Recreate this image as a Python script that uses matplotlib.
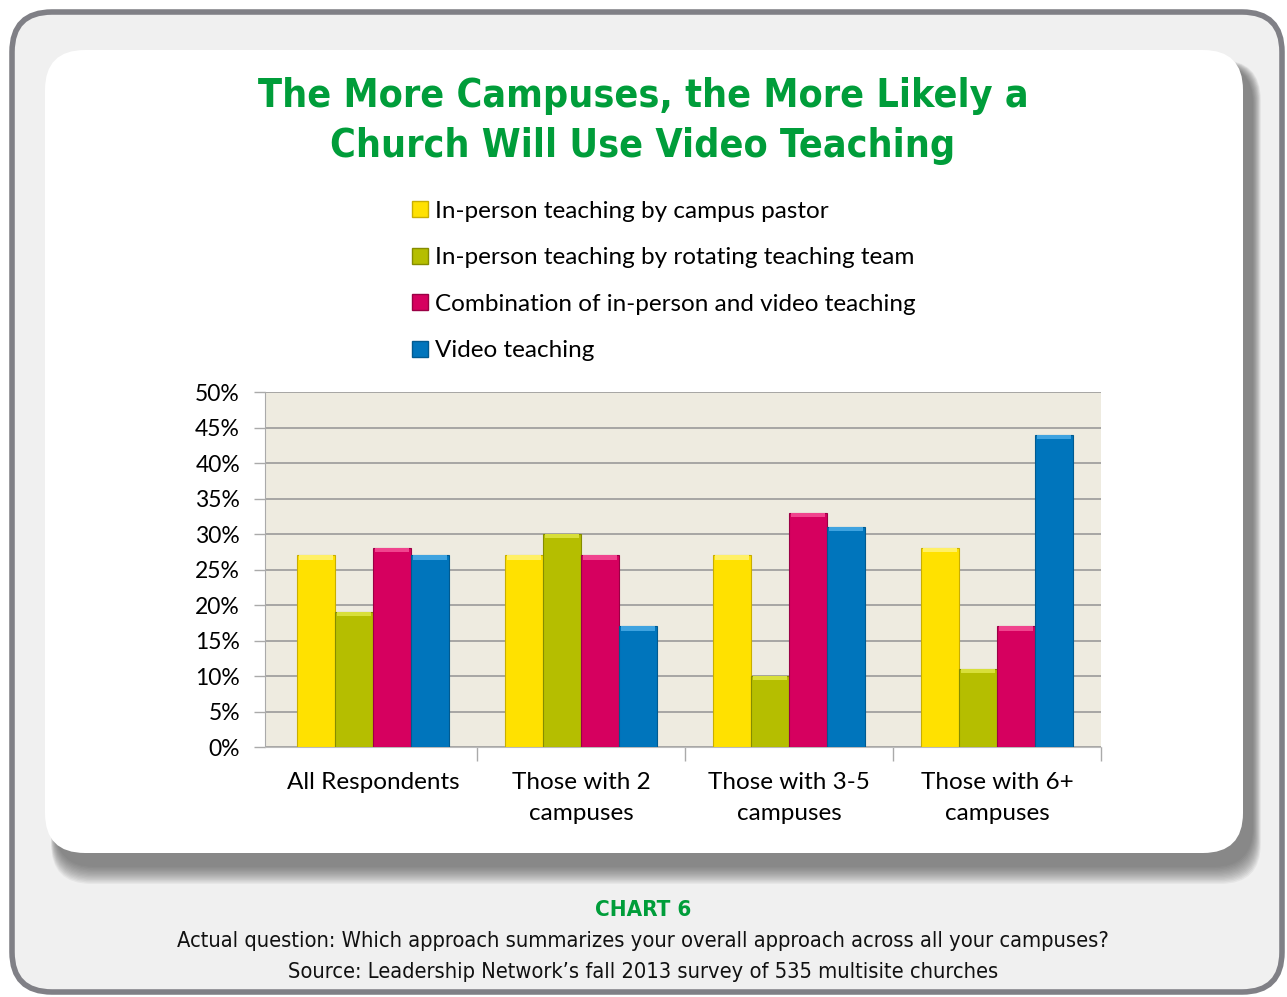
import numpy as np
import matplotlib
matplotlib.use("Agg")
import matplotlib.pyplot as plt
from matplotlib.patches import FancyBboxPatch, Patch

categories = ["All Respondents", "Those with 2\ncampuses", "Those with 3-5\ncampuses", "Those with 6+\ncampuses"]
series_names = ["In-person teaching by campus pastor",
                "In-person teaching by rotating teaching team",
                "Combination of in-person and video teaching",
                "Video teaching"]
campus_pastor = [27, 27, 27, 28]
rotating_team = [19, 30, 10, 11]
combination = [28, 27, 33, 17]
video = [27, 17, 31, 44]
yticks = [0, 5, 10, 15, 20, 25, 30, 35, 40, 45, 50]

colors = ["#FFE100", "#B5BE00", "#D6005F", "#0075BC"]
caps = ["#FFF066", "#D8DF3A", "#F0448E", "#3FA3E0"]
edges = ["#C9AE00", "#858C00", "#9A0045", "#005A90"]

green = "#009D3A"
narrow = ["Liberation Sans Narrow", "DejaVu Sans"]
body = ["Lato", "DejaVu Sans"]

W, H = 1287, 997
fig = plt.figure(figsize=(W / 100, H / 100), dpi=100)

# background frame in pixel units
bg = fig.add_axes([0, 0, 1, 1], zorder=0)
bg.set_xlim(0, W)
bg.set_ylim(H, 0)
bg.axis("off")

bg.add_patch(FancyBboxPatch((12, 12), 1270, 980, boxstyle="round,pad=0,rounding_size=40",
                            facecolor="#F0F0F0", edgecolor="#808086", linewidth=4))
# shadow under the white panel
for k in range(14):
    bg.add_patch(FancyBboxPatch((45 + 10 - k * 0.3, 50 + 14 - k * 0.3), 1198 + k * 0.9, 803 + k * 1.6,
                                boxstyle="round,pad=0,rounding_size=40",
                                facecolor="#555555", edgecolor="none", alpha=0.07))
bg.add_patch(FancyBboxPatch((45, 50), 1198, 803, boxstyle="round,pad=0,rounding_size=40",
                            facecolor="white", edgecolor="none"))

fig.text(643 / W, 1 - 121 / H, "The More Campuses, the More Likely a\nChurch Will Use Video Teaching",
         ha="center", va="center", color=green, fontsize=28.3, fontweight="bold",
         family=narrow, stretch="condensed", linespacing=1.43)

fig.text(643 / W, 1 - 910 / H, "CHART 6", ha="center", va="center", color=green,
         fontsize=16, fontweight="bold", family=narrow, stretch="condensed")
fig.text(643 / W, 1 - 941 / H, "Actual question: Which approach summarizes your overall approach across all your campuses?",
         ha="center", va="center", fontsize=15.7, family=narrow, stretch="condensed", color="#111111")
fig.text(643 / W, 1 - 972 / H, "Source: Leadership Network\u2019s fall 2013 survey of 535 multisite churches",
         ha="center", va="center", fontsize=15.7, family=narrow, stretch="condensed", color="#111111")

ax = fig.add_axes([265 / W, 1 - 747 / H, 836 / W, 355 / H], zorder=2)
ax.set_facecolor("#EEEBE0")

data = [campus_pastor, rotating_team, combination, video]
x = np.arange(len(categories))
bw = 0.182
for k, vals in enumerate(data):
    pos = x + (k - 1.5) * bw
    ax.bar(pos, vals, width=bw, color=colors[k], edgecolor=edges[k], linewidth=0.8, zorder=3)
    ax.bar(pos, [0.6] * len(vals), bottom=np.array(vals) - 0.6, width=bw * 0.9,
           color=caps[k], linewidth=0, zorder=4)

ax.set_xlim(-0.52, 3.47)
ax.set_ylim(0, 50)
ax.set_yticks(yticks)
ax.set_yticklabels([f"{t}%" for t in yticks], fontsize=16.5, family=body)
ax.yaxis.grid(True, color="#9A9A9A", linewidth=1.2, zorder=1)
ax.set_axisbelow(True)
ax.set_xticks(x + 0.5)
ax.set_xticklabels([])
ax.set_xticks(x, minor=True)
ax.set_xticklabels(categories, minor=True, fontsize=17.5, family=body, linespacing=1.6)
ax.tick_params(axis="x", which="major", length=10, color="#AAAAAA", width=1)
ax.tick_params(axis="x", which="minor", length=0, pad=18)
ax.tick_params(axis="y", length=8, color="#AAAAAA", width=1, pad=10)
for s in ["top", "right"]:
    ax.spines[s].set_visible(False)
ax.spines["left"].set_color("#AAAAAA")
ax.spines["bottom"].set_color("#BBBBBB")

handles = [Patch(facecolor=colors[k], edgecolor=edges[k], label=series_names[k]) for k in range(4)]
fig.legend(handles=handles, loc="upper left", bbox_to_anchor=(390 / W, 1 - 179 / H),
           frameon=False, prop={"family": body, "size": 17.5},
           handlelength=0.65, handleheight=0.65, handletextpad=0.3, labelspacing=1.05)

fig.savefig("out.png", dpi=100)
